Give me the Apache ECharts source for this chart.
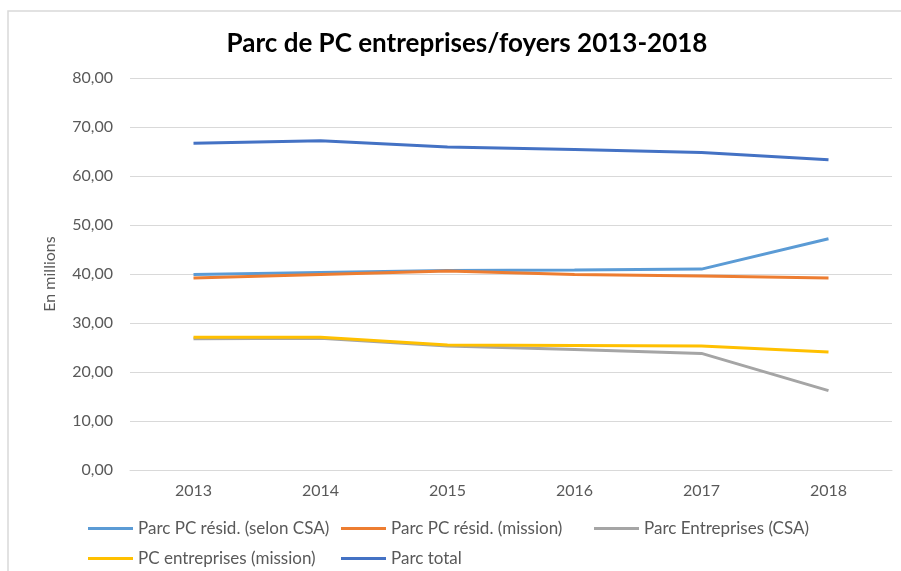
<!DOCTYPE html>
<html>
<head>
<meta charset="utf-8">
<script src="https://cdn.jsdelivr.net/npm/echarts@6/dist/echarts.min.js"></script>
<style>
html, body { margin: 0; padding: 0; background: #fff; }
#chart { width: 901px; height: 571px; }
</style>
</head>
<body>
<div id="chart"></div>
<script>
// années
var years = ['2013', '2014', '2015', '2016', '2017', '2018'];

// valeurs en millions
var residCSA = [39.9, 40.3, 40.7, 40.8, 41.0, 47.2];
var residMission = [39.2, 39.9, 40.6, 39.9, 39.6, 39.2];
var entreprisesCSA = [26.8, 26.9, 25.3, 24.6, 23.8, 16.2];
var entreprisesMission = [27.1, 27.1, 25.5, 25.4, 25.3, 24.1];
var parcTotal = [66.7, 67.2, 65.9, 65.4, 64.8, 63.3];

var names = [
	'Parc PC résid. (selon CSA)',
	'Parc PC résid. (mission)',
	'Parc Entreprises (CSA)',
	'PC entreprises (mission)',
	'Parc total'
];
var colors = ['#5B9BD5', '#ED7D31', '#A5A5A5', '#FFC000', '#4472C4'];
var values = [residCSA, residMission, entreprisesCSA, entreprisesMission, parcTotal];

var FONT = 'Lato';
var TXT = '#595959';

// une légende par entrée pour caler les colonnes comme dans Excel
var legendPos = [[88, 520], [341, 520], [594, 520], [88, 550], [341, 550]];
var legends = names.map(function(n, i) {
	return {
		data: [{ name: n, icon: 'rect' }],
		left: legendPos[i][0],
		top: legendPos[i][1],
		padding: 0,
		itemWidth: 45,
		itemHeight: 3,
		textStyle: { fontFamily: FONT, fontSize: 17, color: TXT }
	};
});

var series = names.map(function(n, i) {
	return {
		name: n,
		type: 'line',
		data: values[i],
		symbol: 'none',
		showSymbol: false,
		color: colors[i],
		lineStyle: { width: 3, color: colors[i] }
	};
});

var chart = echarts.init(document.getElementById('chart'));
chart.setOption({
	animation: false,
	backgroundColor: '#fff',
	title: {
		text: 'Parc de PC entreprises/foyers 2013-2018',
		left: 462,
		textAlign: 'center',
		top: 26,
		textStyle: { fontFamily: FONT, fontSize: 26, fontWeight: 'bold', color: '#000' }
	},
	graphic: [{
		type: 'rect',
		shape: { x: 8, y: 11, width: 950, height: 650 },
		style: { fill: null, stroke: '#d9d9d9', lineWidth: 1.5 },
		silent: true
	}],
	legend: legends,
	grid: { left: 130, right: 9, top: 78, bottom: 101 },
	xAxis: {
		type: 'category',
		data: years,
		boundaryGap: true,
		axisLine: { show: true, lineStyle: { color: '#d9d9d9' } },
		axisTick: { show: false },
		axisLabel: { fontFamily: FONT, fontSize: 16, color: TXT, margin: 13 }
	},
	yAxis: {
		type: 'value',
		min: 0,
		max: 80,
		interval: 10,
		name: 'En millions',
		nameLocation: 'middle',
		nameGap: 72,
		nameTextStyle: { fontFamily: FONT, fontSize: 16, color: TXT },
		axisLine: { show: false },
		axisTick: { show: false },
		splitLine: { lineStyle: { color: '#d9d9d9', width: 1 } },
		axisLabel: {
			fontFamily: FONT, fontSize: 16, color: TXT, margin: 17,
			formatter: function(v) { return v.toFixed(2).replace('.', ','); }
		}
	},
	series: series
});
</script>
</body>
</html>
